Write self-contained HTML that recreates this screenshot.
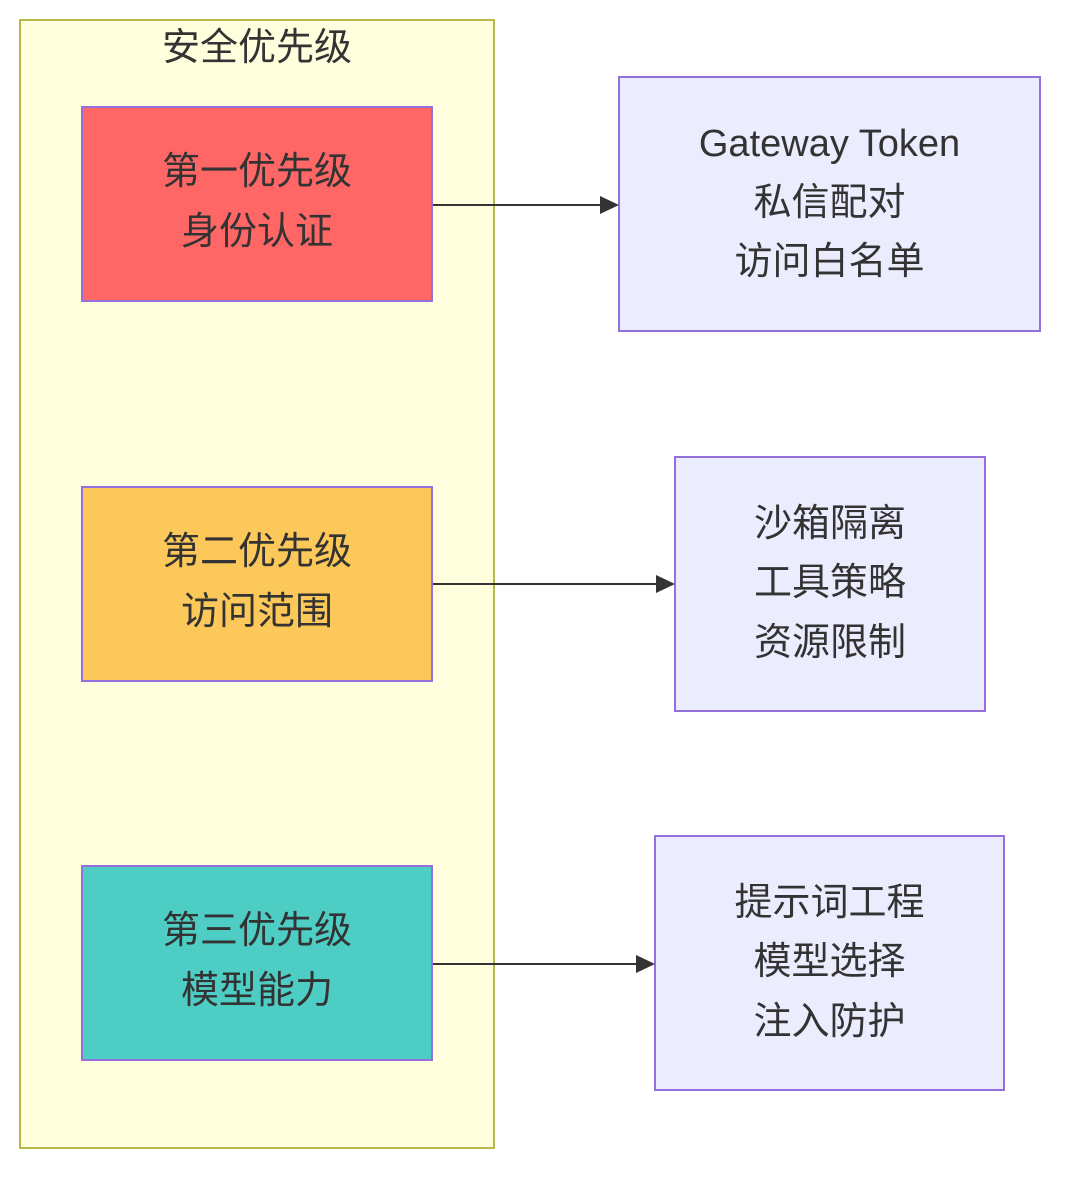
<!DOCTYPE html>
<html><head><meta charset="utf-8"><style>
body{margin:0;width:1080px;height:1189px;background:#fff;position:relative;overflow:hidden;font-family:"Liberation Sans","Noto Sans CJK SC",sans-serif;color:#333}
.b{position:absolute;box-sizing:border-box;border:2px solid #9370db}
.t{position:absolute;left:0;width:100%;text-align:center;font-size:38px;line-height:44px;height:44px;color:#333}
</style></head><body>
<div class="b" style="left:19px;top:19px;width:476px;height:1130px;background:#ffffde;border-color:#b8b848"></div>
<div class="t" style="left:19px;width:476px;top:26px">安全优先级</div>

<div class="b" style="left:81px;top:106px;width:352px;height:196px;background:#ff6666">
<div class="t" style="top:42px">第一优先级</div><div class="t" style="top:102px">身份认证</div></div>
<div class="b" style="left:81px;top:486px;width:352px;height:196px;background:#fdc85a">
<div class="t" style="top:42px">第二优先级</div><div class="t" style="top:102px">访问范围</div></div>
<div class="b" style="left:81px;top:865px;width:352px;height:196px;background:#4ecdc4">
<div class="t" style="top:42px">第三优先级</div><div class="t" style="top:102px">模型能力</div></div>

<div class="b" style="left:618px;top:76px;width:423px;height:256px;background:#ececff">
<div class="t" style="top:44px">Gateway Token</div><div class="t" style="top:103px">私信配对</div><div class="t" style="top:162px">访问白名单</div></div>
<div class="b" style="left:674px;top:456px;width:312px;height:256px;background:#ececff">
<div class="t" style="top:44px">沙箱隔离</div><div class="t" style="top:103px">工具策略</div><div class="t" style="top:163px">资源限制</div></div>
<div class="b" style="left:654px;top:835px;width:351px;height:256px;background:#ececff">
<div class="t" style="top:44px">提示词工程</div><div class="t" style="top:103px">模型选择</div><div class="t" style="top:163px">注入防护</div></div>

<svg width="1080" height="1189" style="position:absolute;left:0;top:0">
<g stroke="#333" stroke-width="2" fill="#333">
<line x1="433" y1="205" x2="602" y2="205"/><polygon points="600,196 619,205 600,214" stroke="none"/>
<line x1="433" y1="584" x2="658" y2="584"/><polygon points="656,575 675,584 656,593" stroke="none"/>
<line x1="433" y1="964" x2="638" y2="964"/><polygon points="636,955 655,964 636,973" stroke="none"/>
</g></svg>
</body></html>
